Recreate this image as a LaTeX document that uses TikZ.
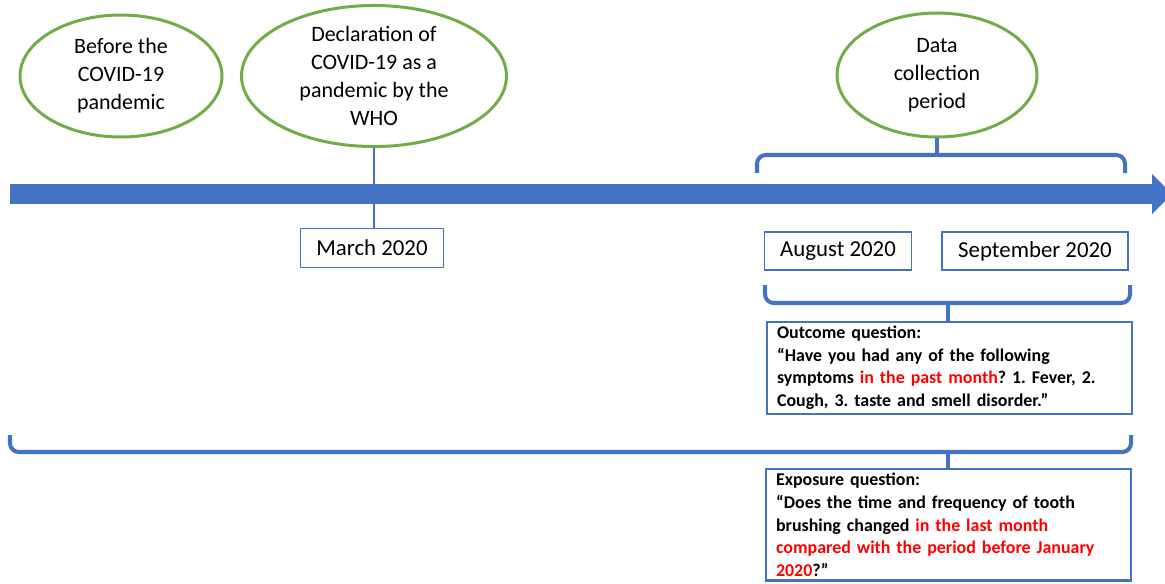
\documentclass[tikz,border=0pt]{standalone}
\usepackage{fontspec}
\setmainfont{Carlito}
\usetikzlibrary{arrows.meta,shapes.geometric}
\definecolor{tlblue}{HTML}{4472C4}
\definecolor{tlgreen}{HTML}{70AD47}
\frenchspacing

\begin{document}
\begin{tikzpicture}[x=0.02cm,y=-0.02cm,
  event/.style={ellipse,draw=tlgreen,line width=1.7pt,fill=white,align=center,
    inner sep=0pt,font=\fontsize{12.5}{16}\selectfont},
  datebox/.style={draw=tlblue,line width=0.8pt,inner sep=0pt,
    font=\fontsize{13}{16}\selectfont},
  qbox/.style={draw=tlblue,line width=1.2pt,anchor=north west,align=left,
    text width=6.9cm,inner xsep=0.2cm,inner ysep=0.08cm,
    font=\fontsize{10.2}{12.9}\selectfont\bfseries},
  brace/.style={draw=tlblue,line width=2.3pt,rounded corners=5pt}]
  \useasboundingbox (0,0) rectangle (1165,583);

  % events above the time line
  \node[event,minimum width=4.04cm,minimum height=2.44cm] (before) at (121,76)
    {Before the\\COVID-19\\pandemic};
  \node[event,minimum width=5.3cm,minimum height=2.54cm] (declared) at (374,76)
    {Declaration of\\COVID-19 as a\\pandemic by the\\WHO};
  \node[event,minimum width=4cm,minimum height=2.48cm] (datacoll) at (937,75)
    {Data\\collection\\period};

  % dates
  \node[datebox,minimum width=2.86cm,minimum height=0.78cm] (march) at (372,248) {March 2020};
  \node[datebox,minimum width=2.94cm,minimum height=0.76cm] (august) at (838,251) {August 2020};
  \node[datebox,minimum width=3.72cm,minimum height=0.76cm] (september) at (1035,251) {September 2020};

  % questions
  \node[qbox] (outq) at (766,321)
    {Outcome question:\\
     “Have you had any of the following\\
     symptoms \textcolor{red}{in the past month}? 1. Fever, 2.\\
     Cough, 3. taste and smell disorder.”};
  \node[qbox] (expq) at (765,468)
    {Exposure question:\\
     “Does the time and frequency of tooth\\
     brushing changed \textcolor{red}{in the last month}\\
     \textcolor{red}{compared with the period before January}\\
     \textcolor{red}{2020}?”};

  % time line
  \coordinate (tstart) at (10,194);
  \coordinate (tend) at (1172,194);
  \draw[tlblue,line width=1.5pt] (declared.south) -- (declared.south |- march.north);
  \draw[tlblue,line width=0.4cm,-{Triangle[width=0.78cm,length=0.4cm]}] (tstart) -- (tend);

  % braces
  \coordinate (topL) at (757,173);
  \coordinate (topR) at (1125,173);
  \coordinate (topM) at (937,155);
  \draw[brace] (topL) |- (topM) -| (topR);
  \draw[brace] (topM) -- (datacoll.south);

  \coordinate (midL) at (765,285);
  \coordinate (midR) at (1130,285);
  \coordinate (midM) at (948,303);
  \draw[brace] (midL) |- (midM) -| (midR);
  \draw[brace] (midM) -- (midM |- outq.north);

  \coordinate (longL) at (10,435);
  \coordinate (longR) at (1131,435);
  \coordinate (longM) at (948,452);
  \draw[brace] (longL) |- (longM) -| (longR);
  \draw[brace] (longM) -- (longM |- expq.north);
\end{tikzpicture}
\end{document}
